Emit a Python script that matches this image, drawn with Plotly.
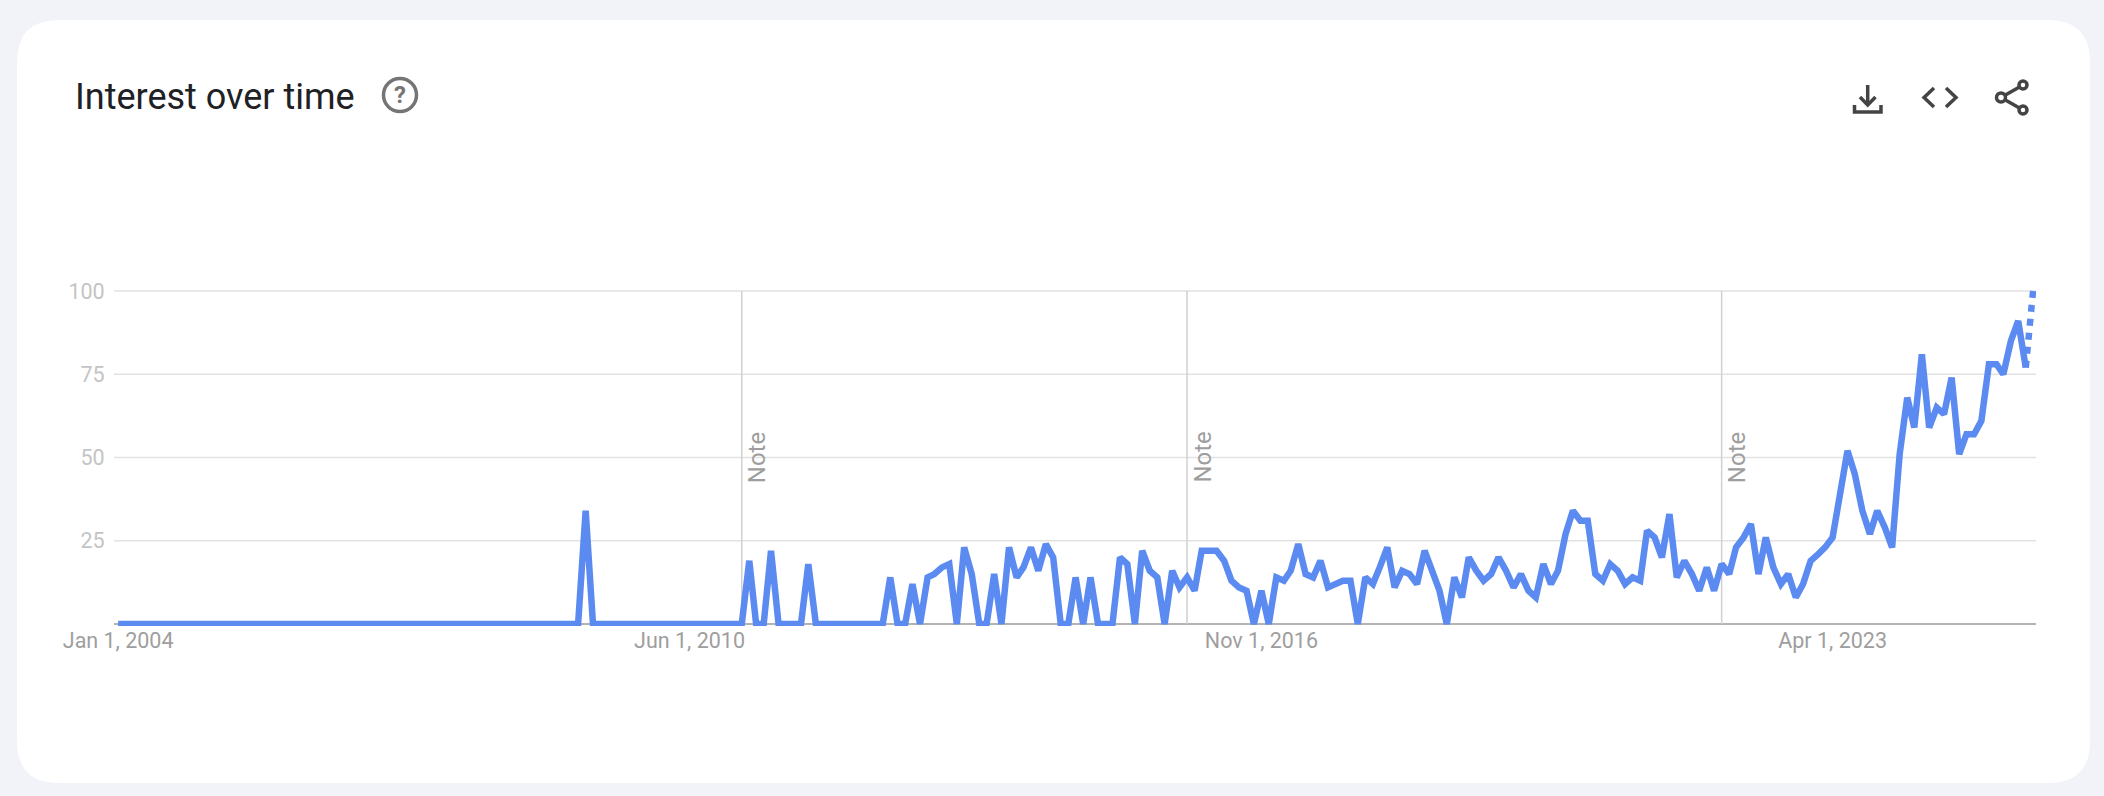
import pandas as pd
import plotly.graph_objects as go

W, H = 2104, 796
months = pd.date_range("2004-01-01", periods=259, freq="MS")
interest = [
    0,0,0,0,0,0,0,0,0,0, 0,0,0,0,0,0,0,0,0,0,
    0,0,0,0,0,0,0,0,0,0, 0,0,0,0,0,0,0,0,0,0,
    0,0,0,0,0,0,0,0,0,0, 0,0,0,0,0,0,0,0,0,0,
    0,0,0,34,0,0,0,0,0,0, 0,0,0,0,0,0,0,0,0,0,
    0,0,0,0,
    0,19,0,0,22,0,0,0,0,18,
    0,0,0,0,0,0,0,0,0,0,
    14,0,0,12,0,14,15,17,18,0,
    23,15,0,0,15,0,23,14,17,23,
    16,24,20,0,0,14,0,14,0,0,
    0,20,18,0,22,16,14,0,16,11,
    14,10,22,22,22,19,13,11,10,0,
    10,0,14,13,16,24,15,14,19,11,
    12,13,13,0,14,12,17,23,11,16,
    15,12,22,16,10,0,14,8,20,16,
    13,15,20,16,11,15,10,8,18,12,
    16,27,34,31,31,15,13,18,16,12,
    14,13,28,26,20,33,14,19,15,10,
    17,10,18,15,23,26,30,15,26,17,
    12,15,8,12,19,21,23,26,39,52,
    45,34,27,34,29,23,51,68,59,81,
    59,65,63,74,51,57,57,61,78,78,
    75,85,91,77,100,
]
y_ticks = [0, 25, 50, 75, 100]
x_tick_dates = ["2004-01-01", "2010-06-01", "2016-11-01", "2023-04-01"]
x_tick_labels = ["Jan 1, 2004", "Jun 1, 2010", "Nov 1, 2016", "Apr 1, 2023"]
note_dates = ["2011-01-01", "2016-01-01", "2022-01-01"]

LINE = "#5b8bf0"
INK = "#444444"

# plot box in page pixels
PX0, PX1 = 114, 2036
Y0_PX, Y100_PX = 624, 291
per = (Y0_PX - Y100_PX) / 100
YLO, YHI = -0.6, 104
PY_BOT, PY_TOP = Y0_PX - YLO * per, Y0_PX - YHI * per

def fx(x):
    return x / W
def fy(y):
    return 1 - y / H
def path(*pts, close=False):
    s = "M" + " L".join(f"{fx(a):.5f},{fy(b):.5f}" for a, b in pts)
    return s + (" Z" if close else "")

fig = go.Figure()
fig.add_trace(go.Scatter(x=months[:258], y=interest[:258], mode="lines",
                         line=dict(color=LINE, width=6.5), hoverinfo="skip"))
fig.add_trace(go.Scatter(x=months[257:], y=interest[257:], mode="lines",
                         line=dict(color=LINE, width=6.5, dash="7px,7px"), hoverinfo="skip"))

# white card
L, T, R, B, r = 17, 20, 2090, 783, 42
card = (f"M{fx(L+r):.5f},{fy(T):.5f} L{fx(R-r):.5f},{fy(T):.5f} "
        f"Q{fx(R):.5f},{fy(T):.5f} {fx(R):.5f},{fy(T+r):.5f} "
        f"L{fx(R):.5f},{fy(B-r):.5f} Q{fx(R):.5f},{fy(B):.5f} {fx(R-r):.5f},{fy(B):.5f} "
        f"L{fx(L+r):.5f},{fy(B):.5f} Q{fx(L):.5f},{fy(B):.5f} {fx(L):.5f},{fy(B-r):.5f} "
        f"L{fx(L):.5f},{fy(T+r):.5f} Q{fx(L):.5f},{fy(T):.5f} {fx(L+r):.5f},{fy(T):.5f} Z")
shapes = [dict(type="path", path=card, xref="paper", yref="paper", layer="below",
               fillcolor="white", line=dict(width=0))]

def icon_line(*pts):
    shapes.append(dict(type="path", path=path(*pts), xref="paper", yref="paper",
                       line=dict(color=INK, width=3.5)))
def icon_circle(cx, cy, rad, color=INK, width=3.5):
    shapes.append(dict(type="circle", xref="paper", yref="paper",
                       x0=fx(cx - rad), x1=fx(cx + rad), y0=fy(cy + rad), y1=fy(cy - rad),
                       fillcolor="white", line=dict(color=color, width=width)))

# grid baseline, notes
for d in note_dates:
    shapes.append(dict(type="line", xref="x", yref="y", x0=d, x1=d, y0=0, y1=100,
                       layer="below", line=dict(color="#d0d0d0", width=1.5)))
for v in y_ticks[1:]:
    shapes.append(dict(type="line", xref="paper", yref="y", x0=fx(PX0), x1=fx(PX1), y0=v, y1=v,
                       layer="below", line=dict(color="#e2e2e2", width=1.5)))
shapes.append(dict(type="line", xref="paper", yref="y", x0=fx(PX0), x1=fx(PX1), y0=0, y1=0,
                   layer="below", line=dict(color="#9a9a9a", width=1.5)))

# help icon
icon_circle(400, 95, 16.5, color="#757575", width=3.5)
# download
icon_line((1867.7, 85), (1867.7, 104))
icon_line((1860, 97), (1867.7, 105), (1875.5, 97))
icon_line((1854.5, 105), (1854.5, 112), (1881, 112), (1881, 105))
# code
icon_line((1934, 88), (1924, 97.5), (1934, 107))
icon_line((1946, 88), (1956, 97.5), (1946, 107))
# share
icon_line((2023, 85), (2001, 97.5), (2023, 110))
icon_circle(2023, 85, 4)
icon_circle(2001, 97.5, 4.5)
icon_circle(2023, 110, 4)

annotations = [
    dict(text="Interest over time", xref="paper", yref="paper", x=fx(73), y=fy(97),
         xanchor="left", yanchor="middle", showarrow=False,
         font=dict(family="Roboto", size=36, color="#202124")),
    dict(text="<b>?</b>", xref="paper", yref="paper", x=fx(400), y=fy(95),
         xanchor="center", yanchor="middle", showarrow=False,
         font=dict(family="Roboto", size=24, color="#757575")),
]
for d in note_dates:
    annotations.append(dict(text="Note", x=d, y=50, xref="x", yref="y", xshift=16,
                            textangle=-90, showarrow=False,
                            font=dict(family="Roboto", size=24, color="#9e9e9e")))

fig.update_layout(
    width=W, height=H, autosize=False,
    margin=dict(l=0, r=0, t=0, b=0),
    paper_bgcolor="#f1f3f8", plot_bgcolor="rgba(0,0,0,0)",
    showlegend=False, shapes=shapes, annotations=annotations,
    xaxis=dict(domain=[PX0 / W, PX1 / W], range=["2003-12-15", "2025-07-13"], automargin=False,
               tickmode="array", tickvals=x_tick_dates, ticktext=x_tick_labels,
               showgrid=False, zeroline=False, showline=False, ticks="",
               tickfont=dict(family="Roboto", size=21.5, color="#9e9e9e")),
    yaxis=dict(domain=[1 - PY_BOT / H, 1 - PY_TOP / H], range=[YLO, YHI], automargin=False,
               tickmode="array", tickvals=y_ticks, ticktext=["", "25", "50", "75", "100"],
               showgrid=False, zeroline=False, showline=False, ticks="outside", ticklen=4,
               tickcolor="rgba(0,0,0,0)",
               tickfont=dict(family="Roboto", size=21.5, color="#c4c4c4")),
)
fig.write_html("out.html", config=dict(displayModeBar=False),
               post_script="document.body.style.margin='0';document.body.style.overflow='hidden';")
